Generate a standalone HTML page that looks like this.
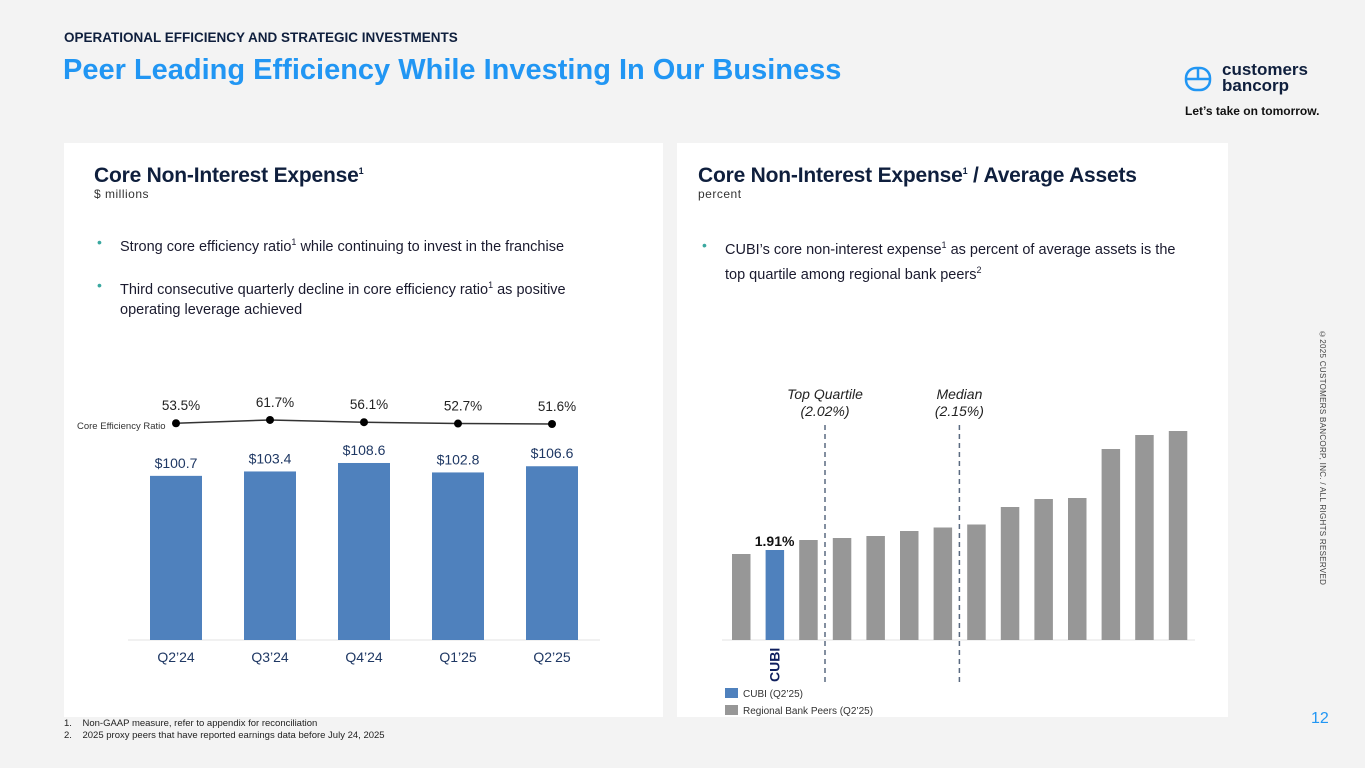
<!DOCTYPE html>
<html><head><meta charset="utf-8">
<style>
*{margin:0;padding:0;box-sizing:border-box}
body{width:1365px;height:768px;background:#f3f3f3;font-family:"Liberation Sans",sans-serif;position:relative;overflow:hidden;color:#0f1f3d}
.abs{position:absolute}
.card{position:absolute;background:#fff}
.h2{font-size:21px;font-weight:bold;color:#0f1f3d;letter-spacing:-0.2px}
.sub{font-size:12px;color:#333;letter-spacing:0.5px}
.bul{font-size:14.5px;color:#1a1a2e;line-height:20px}
.bul .dot{position:absolute;left:-23px;top:0;color:#3aa8a0;font-size:14px}
sup{font-size:9px}
</style></head><body>
<div class="abs" style="left:64px;top:30px;font-size:13.5px;font-weight:bold;color:#0f1f3d">OPERATIONAL EFFICIENCY AND STRATEGIC INVESTMENTS</div>
<div class="abs" style="left:63px;top:54px;font-size:29px;font-weight:bold;color:#2196f3">Peer Leading Efficiency While Investing In Our Business</div>
<svg class="abs" style="left:1184px;top:66px" width="28" height="26" viewBox="0 0 28 26"><rect x="2" y="2" width="24" height="22" rx="10" fill="none" stroke="#2196f3" stroke-width="2.5"/><line x1="2" y1="13" x2="26" y2="13" stroke="#2196f3" stroke-width="2.5"/><line x1="14" y1="3" x2="14" y2="13" stroke="#2196f3" stroke-width="2.5"/></svg>
<div class="abs" style="left:1222px;top:62px;font-size:17px;font-weight:bold;color:#0f1f3d;line-height:16px">customers<br>bancorp</div>
<div class="abs" style="left:1185px;top:104px;font-size:12px;font-weight:bold;color:#111">Let’s take on tomorrow.</div>

<div class="card" style="left:64px;top:143px;width:599px;height:574px"></div>
<div class="card" style="left:677px;top:143px;width:551px;height:574px"></div>

<div class="abs h2" style="left:94px;top:164px">Core Non-Interest Expense<sup>1</sup></div>
<div class="abs sub" style="left:94px;top:187px">$ millions</div>
<div class="abs bul" style="left:120px;top:232px;width:510px"><span class="dot">•</span>Strong core efficiency ratio<sup>1</sup> while continuing to invest in the franchise</div>
<div class="abs bul" style="left:120px;top:275px;width:490px"><span class="dot">•</span>Third consecutive quarterly decline in core efficiency ratio<sup>1</sup> as positive operating leverage achieved</div>

<div class="abs h2" style="left:698px;top:164px">Core Non-Interest Expense<sup>1</sup> / Average Assets</div>
<div class="abs sub" style="left:698px;top:187px">percent</div>
<div class="abs bul" style="left:725px;top:235px;width:460px"><span class="dot">•</span>CUBI’s core non-interest expense<sup>1</sup> as percent of average assets is the top quartile among regional bank peers<sup>2</sup></div>

<svg id="left" class="abs" style="left:0;top:0" width="680" height="720"></svg>
<svg id="right" class="abs" style="left:0;top:0" width="1365" height="768"></svg>

<div class="abs" style="left:64px;top:718px;font-size:9.5px;color:#222;line-height:12px">1.&nbsp;&nbsp;&nbsp;&nbsp;Non-GAAP measure, refer to appendix for reconciliation<br>2.&nbsp;&nbsp;&nbsp;&nbsp;2025 proxy peers that have reported earnings data before July 24, 2025</div>
<div class="abs" style="left:1311px;top:710px;font-size:16px;color:#2196f3">12</div>
<div class="abs" style="left:1318px;top:330px;font-size:8px;color:#444;writing-mode:vertical-rl;letter-spacing:0.3px">©2025 CUSTOMERS BANCORP, INC. / ALL RIGHTS RESERVED</div>

<script>
const categories=["Q2’24","Q3’24","Q4’24","Q1’25","Q2’25"];
const expenses=[100.7,103.4,108.6,102.8,106.6];
const expenseLabels=["$100.7","$103.4","$108.6","$102.8","$106.6"];
const ratios=[53.5,61.7,56.1,52.7,51.6];
const ratioLabels=["53.5%","61.7%","56.1%","52.7%","51.6%"];
const peerValues=[1.87,1.91,2.01,2.03,2.05,2.10,2.135,2.165,2.34,2.42,2.43,2.92,3.06,3.10];
const cubiIndex=1;
const topQuartile=2.02, median=2.15;

const NS="http://www.w3.org/2000/svg";
function mk(svg,tag,attrs,text){const e=document.createElementNS(NS,tag);for(const k in attrs)e.setAttribute(k,attrs[k]);if(text!==undefined)e.textContent=text;svg.appendChild(e);return e;}

// left chart
const L=document.getElementById('left');
const base=640;
const xL=i=>176+i*94;
const yL=v=>base-v*1.63;
const yR=v=>424-(v-51.6)*0.4;
let ax=mk(L,'line',{x1:128,y1:base,x2:600,y2:base,stroke:'#e3e3e3','stroke-width':1});

expenses.forEach((v,i)=>{
  const r=mk(L,'rect',{x:xL(i)-26,y:yL(v),width:52,height:base-yL(v),fill:'#4f81bd'});
  
  
  const t=mk(L,'text',{x:xL(i),y:yL(v)-8,'text-anchor':'middle','font-size':14,fill:'#1f3864','font-family':'Liberation Sans'},expenseLabels[i]);
  
  
  const c=mk(L,'text',{x:xL(i),y:base+22,'text-anchor':'middle','font-size':14,fill:'#1f3864','font-family':'Liberation Sans'},categories[i]);
  
  
});
const pts=ratios.map((v,i)=>xL(i)+','+yR(v)).join(' ');
const pl=mk(L,'polyline',{points:pts,fill:'none',stroke:'#333','stroke-width':1.5});


ratios.forEach((v,i)=>{
  const d=mk(L,'circle',{cx:xL(i),cy:yR(v),r:4,fill:'#000'});
  
  
  const t=mk(L,'text',{x:xL(i)+5,y:yR(v)-13,'text-anchor':'middle','font-size':13.5,fill:'#222','font-family':'Liberation Sans'},ratioLabels[i]);
  
  
});
const lg=mk(L,'text',{x:77,y:429,'font-size':9.5,fill:'#333','font-family':'Liberation Sans'},'Core Efficiency Ratio');



// right chart
const R=document.getElementById('right');
const xP=i=>741+i*33.6;
const yP=v=>base-(v-1.01)*100;
const xV=v=>{let i=peerValues.findIndex(p=>p>v);const a=peerValues[i-1],b=peerValues[i];return xP(i-1)+(xP(i)-xP(i-1))*(v-a)/(b-a);};
let ax2=mk(R,'line',{x1:722,y1:base,x2:1195,y2:base,stroke:'#e3e3e3','stroke-width':1});

peerValues.forEach((v,i)=>{
  const r=mk(R,'rect',{x:xP(i)-9,y:yP(v),width:18.5,height:base-yP(v),fill:i===cubiIndex?'#4f81bd':'#979797'});
  
  
});
const cl=mk(R,'text',{x:xP(cubiIndex),y:yP(peerValues[cubiIndex])-4,'text-anchor':'middle','font-size':14,'font-weight':'bold',fill:'#111','font-family':'Liberation Sans'},peerValues[cubiIndex].toFixed(2)+'%');


const cu=mk(R,'text',{x:0,y:0,'font-size':14,'font-weight':'bold',fill:'#0f1f5d','font-family':'Liberation Sans',transform:`translate(${xP(cubiIndex)+5},${base+42}) rotate(-90)`},'CUBI');


[[topQuartile,'Top Quartile'],[median,'Median']].forEach(([v,name])=>{
  const x=xV(v);
  const l=mk(R,'line',{x1:x,y1:425,x2:x,y2:684,stroke:'#5a6a80','stroke-width':1.5,'stroke-dasharray':'5,4'});
  
  
  const t1=mk(R,'text',{x:x,y:399,'text-anchor':'middle','font-size':14,'font-style':'italic',fill:'#222','font-family':'Liberation Sans'},name);
  
  
  const t2=mk(R,'text',{x:x,y:416,'text-anchor':'middle','font-size':14,'font-style':'italic',fill:'#222','font-family':'Liberation Sans'},'('+v.toFixed(2)+'%)');
  
  
});
[['#4f81bd','CUBI (Q2’25)',688],['#979797','Regional Bank Peers (Q2’25)',705]].forEach(([c,t,y])=>{
  const s=mk(R,'rect',{x:725,y:y,width:13,height:10,fill:c});
  
  
  const tx=mk(R,'text',{x:743,y:y+9,'font-size':10,fill:'#333','font-family':'Liberation Sans'},t);
  
  
});
</script>
</body></html>
